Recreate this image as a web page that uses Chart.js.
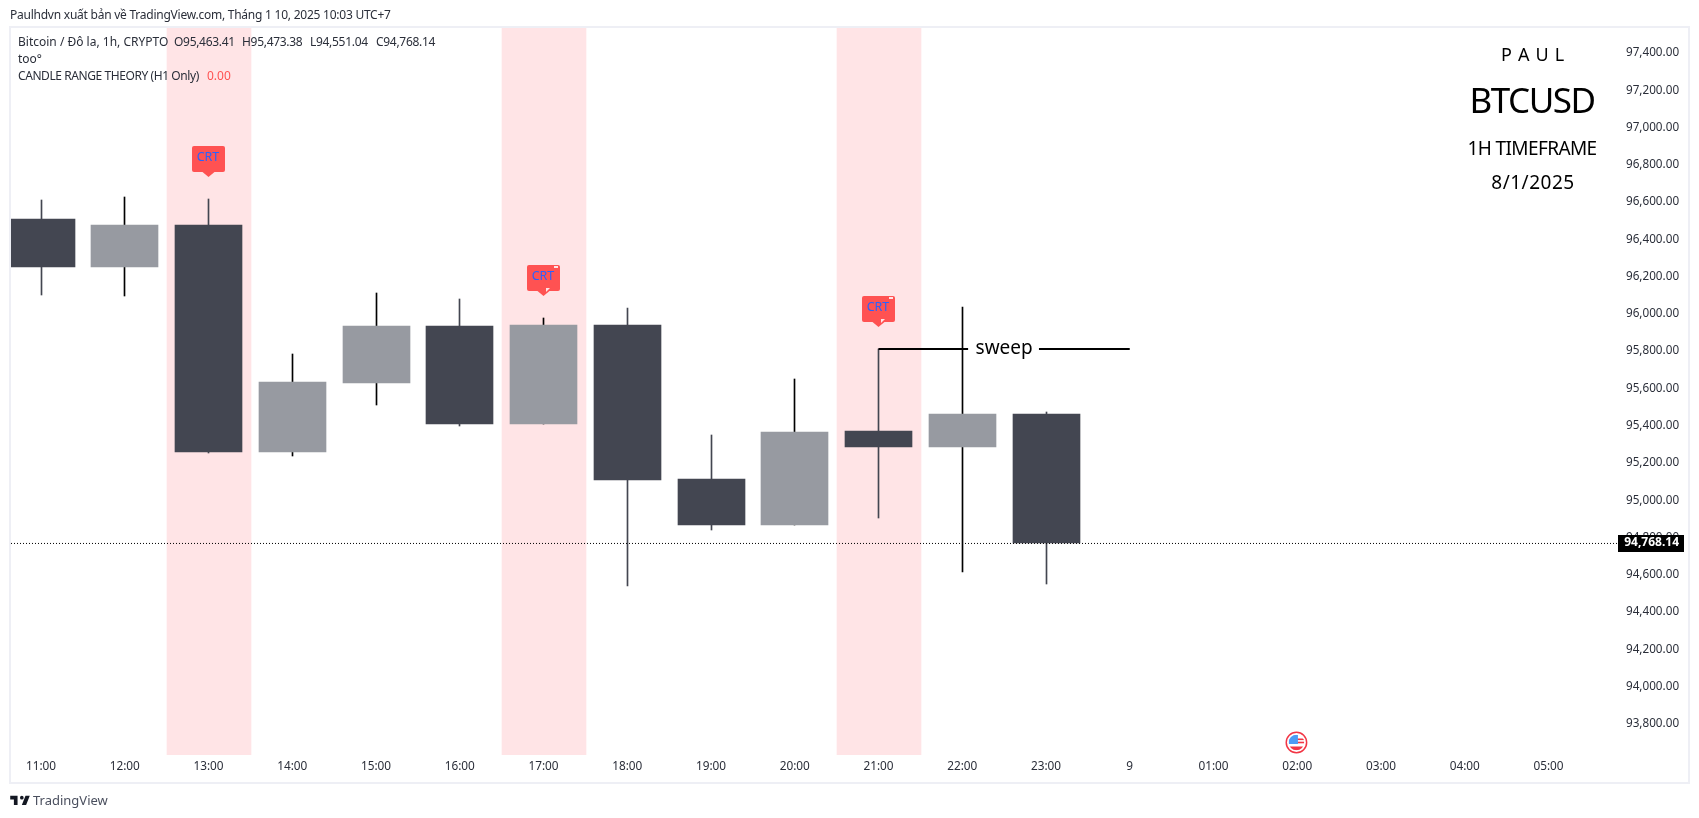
<!DOCTYPE html>
<html><head><meta charset="utf-8">
<script src="https://cdn.jsdelivr.net/npm/chart.js@4"></script>
<style>
html,body{margin:0;padding:0;background:#fff;width:1699px;height:818px;overflow:hidden}
canvas{position:absolute;left:0;top:0}
.t{position:absolute;white-space:nowrap;font-family:"Noto Sans",sans-serif;color:#2a2e39;font-size:12px;line-height:16px}
.n{letter-spacing:-.3px}
.w{color:#000;transform:translateX(-50%)}
#frame{position:absolute;left:9px;top:26px;width:1677px;height:754px;border:2px solid #eeeff5;pointer-events:none}
</style></head><body>
<canvas id="c" width="1699" height="818"></canvas>
<div id="frame"></div>
<div class="t" style="left:10px;top:7px;letter-spacing:-.24px">Paulhdvn xuất bản về TradingView.com, Tháng 1 10, 2025 10:03 UTC+7</div>
<div class="t" style="left:18px;top:34px">Bitcoin / Đô la, 1h, CRYPTO</div>
<div class="t n" style="left:174px;top:34px">O95,463.41</div>
<div class="t n" style="left:242px;top:34px">H95,473.38</div>
<div class="t n" style="left:310px;top:34px">L94,551.04</div>
<div class="t n" style="left:376px;top:34px">C94,768.14</div>
<div class="t" style="left:18px;top:51px">too°</div>
<div class="t" style="left:18px;top:68px;letter-spacing:-.42px">CANDLE RANGE THEORY (H1 Only)</div>
<div class="t" style="left:207px;top:68px;color:#ff5252">0.00</div>
<div class="t w" style="left:1533px;top:40px;font-size:18px;line-height:28px;letter-spacing:.7px">P A U L</div>
<div class="t w" style="left:1532px;top:76px;font-size:35px;line-height:48px;letter-spacing:-1.5px">BTCUSD</div>
<div class="t w" style="left:1532px;top:134px;font-size:19px;line-height:28px;letter-spacing:-.6px">1H TIMEFRAME</div>
<div class="t w" style="left:1533px;top:168px;font-size:19px;line-height:28px;letter-spacing:.5px">8/1/2025</div>
<svg style="position:absolute;left:9px;top:792px" width="22" height="15" viewBox="0 0 36 24"><path fill="#131722" d="M14 6H2v6h6v9h6V6zm14 15h-7l6-15h7l-6 15zm-7-9a3 3 0 1 0 0-6 3 3 0 0 0 0 6z"/></svg>
<div class="t" style="left:33px;top:792px;font-size:13px;color:#4a4f5e">TradingView</div>
<script>
const xLabels = ['11:00','12:00','13:00','14:00','15:00','16:00','17:00','18:00','19:00','20:00','21:00','22:00','23:00','9','01:00','02:00','03:00','04:00','05:00'];
const opens  = [96509,96252,96477,95259,95629,95935,95409,95940,95114,94867,95372,95286,95463.41];
const closes = [96252,96477,95259,95635,95935,95409,95940,95109,94867,95366,95286,95463,94768.14];
const highs  = [96611,96627,96616,95785,96112,96080,95978,96032,95350,95651,95812,96037,95473.38];
const lows   = [96103,96098,95254,95238,95511,95398,95409,94542,94840,94867,94906,94617,94551.04];
const crtIndexes = [2,6,10];
const crtLabel = 'CRT';
const lastPrice = 94768.14;
const lastLabel = '94,768.14';
const sweepPrice = 95812;
const sweepStart = 10, sweepGapStart = 11.07, sweepGapEnd = 11.916, sweepEnd = 13;
const sweepLabel = 'sweep';
const flagIndex = 15;
const yMin = 93633, yMax = 97534, xMin = -0.3582, xMax = 18.818;

const DARK = '#434651', GRAY = '#979aa1', PINK = '#ffe4e6';
const isDown = i => opens[i] > closes[i];
const idx = opens.map((_, i) => i);
const snapX = v => Math.floor(v + 0.1) + 0.5;

const overlay = {
  id: 'overlay',
  afterDatasetsUpdate(chart) {
    // snap bars onto the pixel grid so that edges stay crisp
    chart.data.datasets.forEach((ds, d) => {
      if (ds.type === 'line') return;
      chart.getDatasetMeta(d).data.forEach(el => {
        el.x = ds.label === 'band' ? snapX(el.x) + 0.5 : snapX(el.x);
        el.y = Math.round(el.y);
        el.base = Math.round(el.base);
        el.height = el.base - el.y;
      });
    });
  },
  afterDatasetsDraw(chart) {
    const {ctx, scales: {x, y}} = chart;
    ctx.save();
    ctx.fillStyle = '#000';
    ctx.font = '19px "Noto Sans", sans-serif';
    ctx.textAlign = 'center'; ctx.textBaseline = 'middle';
    ctx.fillText(sweepLabel, x.getPixelForValue(11.5), y.getPixelForValue(sweepPrice));
    crtIndexes.forEach((i, n) => {
      const cx = snapX(x.getPixelForValue(i)), tip = Math.round(y.getPixelForValue(highs[i])) - 22;
      const L = cx - 16.5, T = tip - 31, W = 33, H = 26;
      ctx.fillStyle = '#ff5252';
      ctx.beginPath();
      ctx.roundRect(L, T, W, H, 2);
      ctx.fill();
      ctx.beginPath();
      ctx.moveTo(cx - 6, T + H); ctx.lineTo(cx + 6, T + H); ctx.lineTo(cx, tip); ctx.closePath(); ctx.fill();
      if (n > 0) {
        ctx.fillStyle = PINK;
        ctx.fillRect(L + 27, T + 1, 4, 2);
        ctx.beginPath();
        ctx.moveTo(cx + 2.5, T + H - 3); ctx.lineTo(cx + 6.5, T + H - 3); ctx.lineTo(cx + 2.5, T + H + 1); ctx.closePath(); ctx.fill();
      }
      ctx.fillStyle = '#2962ff';
      ctx.font = '12.5px "Noto Sans", sans-serif';
      ctx.textAlign = 'center'; ctx.textBaseline = 'middle';
      ctx.fillText(crtLabel, cx - 0.5, T + 11);
    });
    const fx = x.getPixelForValue(flagIndex) - 0.8, fy = 742.5, r = 10.2, f = 7.8;
    ctx.save();
    ctx.beginPath(); ctx.arc(fx, fy, r, 0, 7); ctx.fillStyle = '#fff'; ctx.fill();
    ctx.beginPath(); ctx.arc(fx, fy, f, 0, 7); ctx.clip();
    ctx.fillStyle = '#f23645';
    ctx.fillRect(fx, fy - 4, f, 1.6);
    ctx.fillRect(fx, fy - 0.8, f, 1.6);
    ctx.fillRect(fx - f, fy + 4, 2 * f, 4);
    ctx.fillStyle = '#4d9cf5';
    ctx.fillRect(fx - f, fy - f, f + 1.5, f + 1.5);
    ctx.restore();
    ctx.strokeStyle = '#f23645'; ctx.lineWidth = 1.5;
    ctx.beginPath(); ctx.arc(fx, fy, r, 0, 7); ctx.stroke();
    const ly = Math.floor(y.getPixelForValue(lastPrice));
    ctx.fillStyle = '#000';
    ctx.fillRect(x.right + 1, ly - 8, 66, 17);
    ctx.fillStyle = '#fff';
    ctx.font = 'bold 12px "Noto Sans", sans-serif';
    ctx.textAlign = 'right'; ctx.textBaseline = 'middle';
    ctx.fillText(lastLabel, x.right + 62, ly);
    ctx.restore();
  }
};

new Chart(document.getElementById('c'), {
  type: 'bar',
  data: { datasets: [
    { label: 'band', order: 5, data: crtIndexes.map(i => ({x: i, y: [yMin, yMax]})), backgroundColor: PINK, barThickness: 84, grouped: false },
    { label: 'wick', order: 3, data: idx.map(i => ({x: i, y: [lows[i], highs[i]]})), backgroundColor: idx.map(i => isDown(i) ? DARK : '#000'), barThickness: 1, grouped: false },
    { label: 'body', order: 2, data: idx.map(i => ({x: i, y: [Math.min(opens[i], closes[i]), Math.max(opens[i], closes[i])]})), backgroundColor: idx.map(i => isDown(i) ? DARK : GRAY), barThickness: 67, grouped: false },
    { type: 'line', label: 'last', order: 1, data: [{x: xMin, y: lastPrice}, {x: xMax, y: lastPrice}], borderColor: '#000', borderWidth: 1, borderDash: [1, 2], pointRadius: 0 },
    { type: 'line', label: 'sweepA', order: 0, data: [{x: sweepStart, y: sweepPrice}, {x: sweepGapStart, y: sweepPrice}], borderColor: '#000', borderWidth: 2, pointRadius: 0 },
    { type: 'line', label: 'sweepB', order: 0, data: [{x: sweepGapEnd, y: sweepPrice}, {x: sweepEnd, y: sweepPrice}], borderColor: '#000', borderWidth: 2, pointRadius: 0 }
  ]},
  options: {
    responsive: false, animation: false, devicePixelRatio: 1,
    layout: { padding: { left: 11, top: 28, right: 11, bottom: 36 } },
    plugins: { legend: { display: false }, tooltip: { enabled: false } },
    events: [],
    scales: {
      x: { type: 'linear', min: xMin, max: xMax, offset: false,
        grid: { display: false, drawTicks: false }, border: { display: false },
        afterFit: s => { s.height = 27; },
        ticks: { stepSize: 1, includeBounds: false, autoSkip: false, maxRotation: 0, padding: 5, color: '#2a2e39',
          font: { family: '"Noto Sans", sans-serif', size: 11.8 }, callback: v => xLabels[v] } },
      y: { type: 'linear', position: 'right', min: yMin, max: yMax,
        grid: { display: false, drawTicks: false }, border: { display: false },
        afterFit: s => { s.width = 71; },
        ticks: { stepSize: 200, includeBounds: false, padding: 9, color: '#2a2e39',
          font: { family: '"Noto Sans", sans-serif', size: 11.7 },
          callback: v => v.toLocaleString('en-US', {minimumFractionDigits: 2, maximumFractionDigits: 2}) } }
    }
  },
  plugins: [overlay]
});
</script>
</body></html>
